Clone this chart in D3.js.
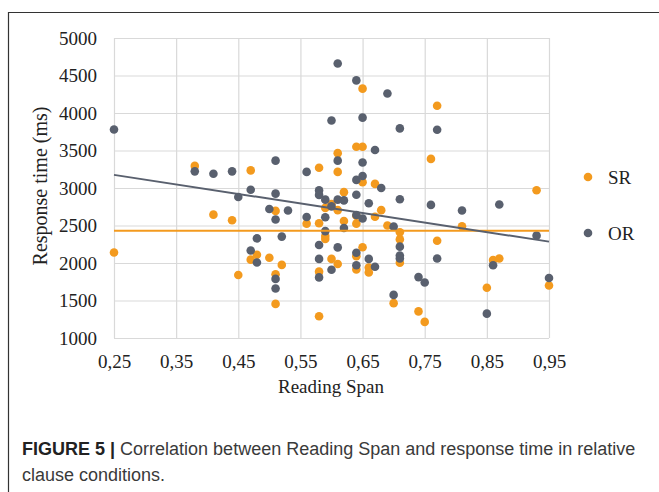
<!DOCTYPE html>
<html>
<head>
<meta charset="utf-8">
<script src="https://cdn.jsdelivr.net/npm/d3@7"></script>
<style>
  html, body { margin: 0; padding: 0; background: #fff; }
  svg { display: block; }
</style>
</head>
<body>
<svg id="chart" width="659" height="492"></svg>
<script>
// ---- data ----
const xTickValues = [0.25, 0.35, 0.45, 0.55, 0.65, 0.75, 0.85, 0.95];
const yTickValues = [1000, 1500, 2000, 2500, 3000, 3500, 4000, 4500, 5000];

const srSpan = [0.25,0.38,0.41,0.44,0.45,0.47,0.47,0.48,0.50,0.51,0.51,0.51,0.52,0.56,0.58,0.58,0.58,0.58,0.59,0.59,0.59,0.60,0.60,0.61,0.61,0.61,0.61,0.62,0.62,0.64,0.64,0.64,0.64,0.64,0.65,0.65,0.65,0.65,0.66,0.66,0.67,0.67,0.68,0.69,0.71,0.71,0.71,0.70,0.74,0.75,0.76,0.77,0.77,0.81,0.85,0.86,0.87,0.93,0.95];
const srTime = [2140,3295,2645,2570,1840,3235,2045,2110,2070,2695,1850,1455,1975,2525,3270,2530,1885,1290,2735,2360,2320,2785,2055,3465,3215,2705,1987,2945,2560,3550,2630,2525,2090,1915,4325,3550,3078,2210,1940,1875,3055,2617,2705,2500,2410,2315,2003,1465,1355,1215,3388,4097,2297,2490,1670,2040,2060,2970,1700];

const orSpan = [0.25,0.38,0.41,0.44,0.45,0.47,0.47,0.48,0.48,0.50,0.51,0.51,0.51,0.51,0.51,0.52,0.53,0.56,0.56,0.58,0.58,0.58,0.58,0.58,0.59,0.59,0.59,0.60,0.60,0.60,0.61,0.61,0.61,0.61,0.62,0.62,0.64,0.64,0.64,0.64,0.64,0.64,0.65,0.65,0.65,0.65,0.66,0.66,0.67,0.67,0.68,0.69,0.70,0.70,0.71,0.71,0.71,0.71,0.71,0.74,0.75,0.76,0.77,0.77,0.81,0.85,0.86,0.87,0.93,0.95];
const orTime = [3780,3222,3190,3222,2880,2977,2166,2328,2006,2720,3365,2925,2580,1788,1660,2352,2700,3215,2613,2968,2908,2240,2055,1808,2845,2610,2425,3900,2755,1910,4660,3365,2845,2208,2835,2467,4435,3108,2910,2640,2137,1970,3938,3340,3160,2593,2797,2055,3507,1950,3000,4260,2485,1575,3795,2850,2218,2100,2060,1812,1740,2775,3777,2060,2700,1325,1970,2780,2365,1800];

const trendSpan = [0.25, 0.95];
const srTrend = [2430, 2430];
const orTrend = [3175, 2285];

const seriesNames = ["SR", "OR"];
const colors = { SR: "#F39A1E", OR: "#59606E" };

// ---- drawing ----
const svg = d3.select("#chart");
const x = d3.scaleLinear().domain([0.25, 0.95]).range([114, 549]);
const y = d3.scaleLinear().domain([1000, 5000]).range([338, 38]);

// frame
svg.append("path")
  .attr("d", "M8.5,500 L8.5,12.5 L700,12.5")
  .attr("fill", "none").attr("stroke", "#333").attr("stroke-width", 1.2);

const serif = "'Liberation Serif', 'Times New Roman', serif";

// grid + axes
const gx = svg.append("g").attr("transform", "translate(0,338)")
  .call(d3.axisBottom(x).tickValues(xTickValues).tickSize(-300)
        .tickFormat(d => d3.format(".2f")(d).replace(".", ",")));
gx.select(".domain").remove();
gx.selectAll("line").attr("stroke", "#d9d9d9").attr("stroke-width", 1.2);
gx.selectAll("text").attr("y", 30).attr("dy", 0)
  .attr("font-family", serif).attr("font-size", 19).attr("fill", "#222");

const gy = svg.append("g").attr("transform", "translate(114,0)")
  .call(d3.axisLeft(y).tickValues(yTickValues).tickSize(-435).tickFormat(d3.format("d")));
gy.select(".domain").remove();
gy.selectAll("line").attr("stroke", "#d9d9d9").attr("stroke-width", 1.2);
gy.selectAll("text").attr("x", -17).attr("dy", "0.33em")
  .attr("font-family", serif).attr("font-size", 19).attr("fill", "#222");

// points
function drawPoints(xs, ys, color) {
  svg.append("g").selectAll("circle")
    .data(xs.map((v, i) => [v, ys[i]]))
    .join("circle")
    .attr("cx", d => x(d[0])).attr("cy", d => y(d[1]))
    .attr("r", 4.3).attr("fill", color);
}
drawPoints(srSpan, srTime, colors.SR);
drawPoints(orSpan, orTime, colors.OR);

// trend lines
const line = d3.line().x(d => x(d[0])).y(d => y(d[1]));
svg.append("path").datum(trendSpan.map((v, i) => [v, srTrend[i]]))
  .attr("d", line).attr("fill", "none").attr("stroke", colors.SR).attr("stroke-width", 2);
svg.append("path").datum(trendSpan.map((v, i) => [v, orTrend[i]]))
  .attr("d", line).attr("fill", "none").attr("stroke", colors.OR).attr("stroke-width", 2);

// axis titles
svg.append("text").attr("x", 331).attr("y", 393).attr("text-anchor", "middle")
  .attr("font-family", serif).attr("font-size", 19).attr("fill", "#222").text("Reading Span");
svg.append("text").attr("transform", "translate(47,186) rotate(-90)").attr("text-anchor", "middle")
  .attr("font-family", serif).attr("font-size", 20).attr("fill", "#222").text("Response time (ms)");

// legend
const legY = [177, 233];
seriesNames.forEach((name, i) => {
  svg.append("circle").attr("cx", 588).attr("cy", legY[i]).attr("r", 4.3).attr("fill", colors[name]);
  svg.append("text").attr("x", 608).attr("y", legY[i]).attr("dy", "0.35em")
    .attr("font-family", serif).attr("font-size", 19).attr("fill", "#222").text(name);
});

// caption
const sans = "'Liberation Sans', Arial, sans-serif";
const cap = svg.append("text").attr("x", 22).attr("y", 455)
  .attr("font-family", sans).attr("font-size", 18).attr("fill", "#3a3a3a");
cap.append("tspan").attr("font-weight", "bold").attr("fill", "#222").text("FIGURE 5 | ");
cap.append("tspan").text("Correlation between Reading Span and response time in relative");
svg.append("text").attr("x", 22).attr("y", 481)
  .attr("font-family", sans).attr("font-size", 18).attr("fill", "#3a3a3a").text("clause conditions.");
</script>
</body>
</html>
